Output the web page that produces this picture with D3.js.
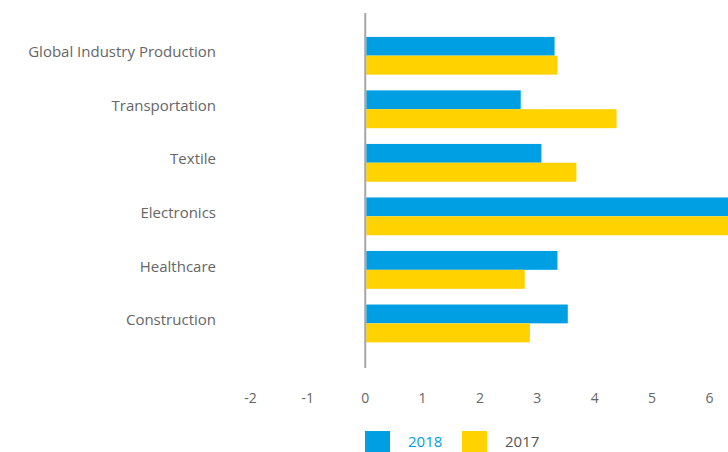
<!DOCTYPE html>
<html>
<head>
<meta charset="utf-8">
<script src="https://cdn.jsdelivr.net/npm/d3@7"></script>
<style>
  body { margin: 0; background: #fff; }
  svg { display: block; font-family: 'Open Sans', sans-serif; }
</style>
</head>
<body>
<div id="chart"></div>
<script>
let categories = ['Global Industry Production', 'Transportation', 'Textile', 'Electronics', 'Healthcare', 'Construction']
let values2018 = [3.30, 2.71, 3.07, 7.2, 3.35, 3.53]
let values2017 = [3.35, 4.38, 3.68, 7.2, 2.78, 2.87]
let series = ['2018', '2017']
let xTicks = [-2, -1, 0, 1, 2, 3, 4, 5, 6]

let width = 728
let height = 452

let colors = { '2018': '#009fe3', '2017': '#ffd200' }

let svg = d3.select('#chart')
  .append('svg')
  .attr('width', width)
  .attr('height', height)

let xScale = d3.scaleLinear().domain([-2, 6]).range([250.5, 709.5])

let yScale = d3.scaleBand()
  .domain(categories)
  .range([12, 367])
  .paddingInner(0.29)
  .paddingOuter(0.46)

let subScale = d3.scaleBand()
  .domain(series)
  .range([0, yScale.bandwidth()])

let rows = categories.map((c, i) => ({
  name: c,
  values: [
    { key: '2018', value: values2018[i] },
    { key: '2017', value: values2017[i] }
  ]
}))

svg.append('clipPath')
  .attr('id', 'plot-clip')
  .append('rect')
  .attr('x', 0)
  .attr('y', 0)
  .attr('width', width)
  .attr('height', height)

let groups = svg.selectAll('.group')
  .data(rows)
  .enter()
  .append('g')
  .attr('class', 'group')
  .attr('transform', d => `translate(0,${yScale(d.name)})`)
  .attr('clip-path', 'url(#plot-clip)')

groups.selectAll('rect')
  .data(d => d.values)
  .enter()
  .append('rect')
  .attr('x', d => Math.min(xScale(0), xScale(d.value)) + 1)
  .attr('y', d => subScale(d.key))
  .attr('width', d => Math.abs(xScale(d.value) - xScale(0)) - 1)
  .attr('height', subScale.bandwidth())
  .attr('fill', d => colors[d.key])

// category labels
svg.selectAll('.cat-label')
  .data(categories)
  .enter()
  .append('text')
  .attr('class', 'cat-label')
  .attr('x', 216)
  .attr('y', d => yScale(d) + yScale.bandwidth() / 2 - 3.5)
  .attr('dy', '0.35em')
  .attr('text-anchor', 'end')
  .attr('font-size', 15)
  .attr('fill', '#666')
  .text(d => d)

// zero line
svg.append('line')
  .attr('x1', xScale(0))
  .attr('x2', xScale(0))
  .attr('y1', 13)
  .attr('y2', 368)
  .attr('stroke', '#a6a6a6')
  .attr('stroke-width', 2)

// x axis tick labels
svg.selectAll('.tick-label')
  .data(xTicks)
  .enter()
  .append('text')
  .attr('class', 'tick-label')
  .attr('x', d => xScale(d))
  .attr('y', 398)
  .attr('dy', '0.35em')
  .attr('text-anchor', 'middle')
  .attr('font-size', 14)
  .attr('fill', '#666')
  .text(d => d)

// legend
let legendX = [365, 462]
let legendText = ['#009fe3', '#555']
let legend = svg.selectAll('.legend')
  .data(series)
  .enter()
  .append('g')
  .attr('class', 'legend')
  .attr('transform', (d, i) => `translate(${legendX[i]},431)`)

legend.append('rect')
  .attr('width', 25)
  .attr('height', 21)
  .attr('fill', d => colors[d])

legend.append('text')
  .attr('x', 43)
  .attr('y', 10.5)
  .attr('dy', '0.35em')
  .attr('font-size', 15)
  .attr('fill', (d, i) => legendText[i])
  .text(d => d)
</script>
</body>
</html>
